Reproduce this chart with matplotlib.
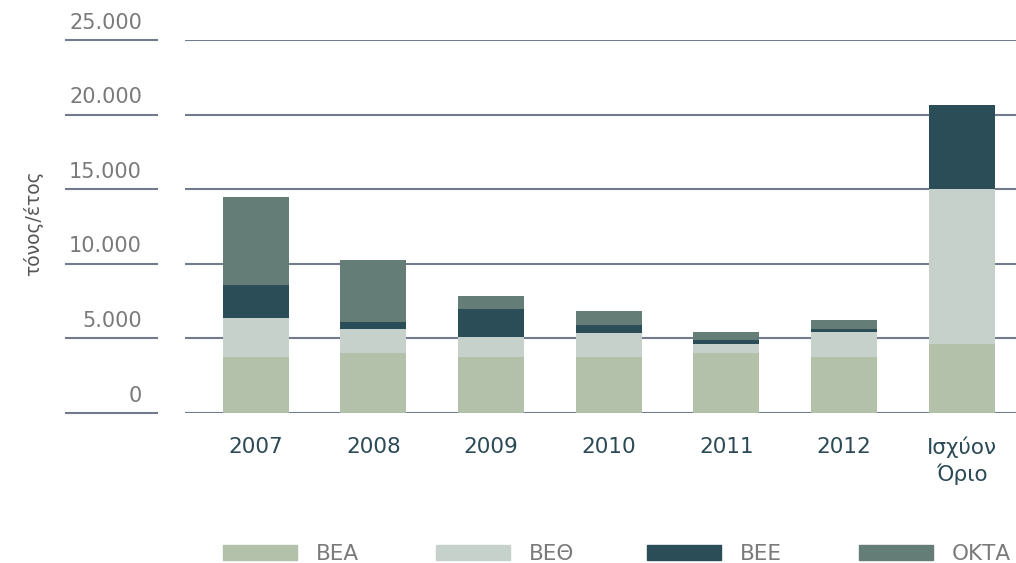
import matplotlib.pyplot as plt
import matplotlib.transforms as mtransforms
from matplotlib.patches import Rectangle
import numpy as np

categories = ["2007", "2008", "2009", "2010", "2011", "2012", "Ισχύον\nΌριο"]
bea  = [3750, 4020, 3750, 3750, 4020, 3750, 4620]
beth = [2620, 1610, 1340, 1610, 600, 1680, 10400]
bee  = [2210, 470, 1880, 540, 270, 200, 5630]
okta = [5900, 4150, 870, 940, 540, 600, 0]

series = ["ΒΕΑ", "ΒΕΘ", "ΒΕΕ", "ΟΚΤΑ"]
colors = ["#b3c0aa", "#c7d1cc", "#2a4d57", "#647e77"]
yticks = [0, 5000, 10000, 15000, 20000, 25000]
ytick_labels = ["0", "5.000", "10.000", "15.000", "20.000", "25.000"]

plt.rcParams['font.family'] = ['DejaVu Sans Condensed', 'DejaVu Sans']

fig = plt.figure(figsize=(10.16, 5.63), dpi=100)
W, H = 1016, 563
ax = fig.add_axes([185 / W, (H - 413) / H, (W - 185) / W, (413 - 40) / H])

x = np.arange(len(categories))
bottom = np.zeros(len(categories))
for vals, col in zip([bea, beth, bee, okta], colors):
    ax.bar(x, vals, width=0.56, bottom=bottom, color=col, zorder=3)
    bottom += np.array(vals)

ax.set_ylim(0, 25000)
ax.set_xlim(-0.6, 6.46)
for sp in ax.spines.values():
    sp.set_visible(False)
ax.set_yticks([])
for t in yticks:
    ax.axhline(t, color="#737a8c", lw=1.5, zorder=1)

ax.set_xticks(x)
ax.set_xticklabels(categories, fontsize=15.5, color="#2b4a55", linespacing=1.3)
ax.tick_params(axis="x", length=0, pad=17)

# left-side short lines with labels
trans = mtransforms.blended_transform_factory(fig.transFigure, ax.transData)
for t, lab in zip(yticks, ytick_labels):
    ax.plot([66 / W, 157 / W], [t, t], transform=trans, color="#737a8c",
            lw=1.5, clip_on=False)
    ax.text(142 / W, t + 500, lab, transform=trans, ha="right", va="bottom",
            fontsize=15, color="#7a7a7a")

fig.text(33 / W, 1 - 223 / H, "τόνος/έτος", rotation=90, ha="center",
         va="center", fontsize=13.5, color="#555555")

# legend
box_x = [223, 436, 647, 859]
for bx, name, col in zip(box_x, series, colors):
    fig.add_artist(Rectangle((bx / W, (H - 560) / H), 74 / W, 15 / H,
                             transform=fig.transFigure, color=col))
    fig.text((bx + 93) / W, (H - 560) / H, name, ha="left", va="baseline",
             fontsize=15.5, color="#7a7a7a")

fig.savefig("out.png", dpi=100)
